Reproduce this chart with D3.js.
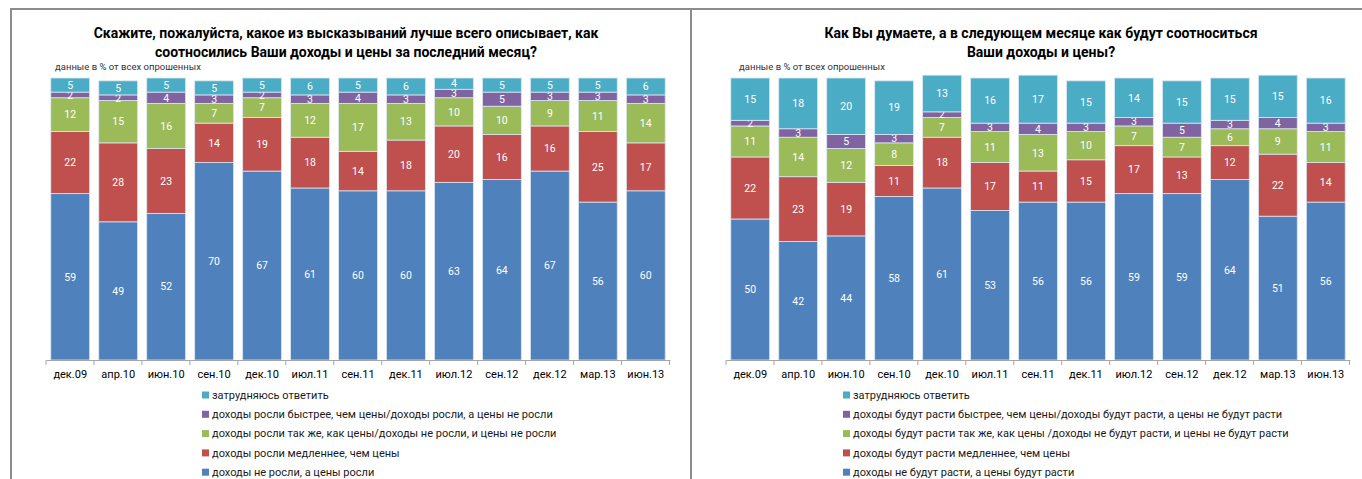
<!doctype html>
<html lang="ru">
<head>
<meta charset="utf-8" />
<title>Доходы и цены</title>
<script src="https://d3js.org/d3.v7.min.js"></script>
<style>
  body { margin: 0; background: #fff; }
  text { font-family: Roboto, "Open Sans", sans-serif; }
</style>
</head>
<body>
<svg id="chart" width="1362" height="479"></svg>
<script>
// categories (same for both panels)
const months = ["дек.09", "апр.10", "июн.10", "сен.10", "дек.10", "июл.11", "сен.11",
                "дек.11", "июл.12", "сен.12", "дек.12", "мар.13", "июн.13"];

// left panel: last month
const pastNoGrowth = [59, 49, 52, 70, 67, 61, 60, 60, 63, 64, 67, 56, 60];
const pastSlower   = [22, 28, 23, 14, 19, 18, 14, 18, 20, 16, 16, 25, 17];
const pastSame     = [12, 15, 16,  7,  7, 12, 17, 13, 10, 10,  9, 11, 14];
const pastFaster   = [ 2,  2,  4,  3,  2,  3,  4,  3,  3,  5,  3,  3,  3];
const pastDunno    = [ 5,  5,  5,  5,  5,  6,  5,  6,  4,  5,  5,  5,  6];

// right panel: next month
const nextNoGrowth = [50, 42, 44, 58, 61, 53, 56, 56, 59, 59, 64, 51, 56];
const nextSlower   = [22, 23, 19, 11, 18, 17, 11, 15, 17, 13, 12, 22, 14];
const nextSame     = [11, 14, 12,  8,  7, 11, 13, 10,  7,  7,  6,  9, 11];
const nextFaster   = [ 2,  3,  5,  3,  2,  3,  4,  3,  3,  5,  3,  4,  3];
const nextDunno    = [15, 18, 20, 19, 13, 16, 17, 15, 14, 15, 15, 15, 16];

const pastLegend = [
  "затрудняюсь ответить",
  "доходы росли быстрее, чем цены/доходы росли, а цены не росли",
  "доходы росли так же, как цены/доходы не росли, и цены не росли",
  "доходы росли медленнее, чем цены",
  "доходы не росли, а цены росли"
];
const nextLegend = [
  "затрудняюсь ответить",
  "доходы будут расти быстрее, чем цены/доходы будут расти, а цены не будут расти",
  "доходы будут расти так же, как цены /доходы не будут расти, и цены не будут расти",
  "доходы будут расти медленнее, чем цены",
  "доходы не будут расти, а цены будут расти"
];

const keys = ["noGrowth", "slower", "same", "faster", "dunno"];
const colors = ["#4F81BD", "#C0504D", "#9BBB59", "#8064A2", "#4BACC6"];
const legendColors = colors.slice().reverse();

const svg = d3.select("#chart");

// frame lines
svg.append("path")
  .attr("d", "M11,479 V9 H1362 M691,9 V479")
  .attr("fill", "none")
  .attr("stroke", "#8c8c8c")
  .attr("stroke-width", 2);

function buildRows(series) {
  return months.map((m, i) => {
    const row = { month: m };
    keys.forEach((k, j) => row[k] = series[j][i]);
    return row;
  });
}

function drawPanel(opt) {
  const g = svg.append("g");
  const rows = buildRows(opt.series);

  const x = d3.scaleBand()
    .domain(months)
    .range([opt.x0, opt.x1])
    .paddingInner(0.19)
    .paddingOuter(0.1);
  const y = d3.scaleLinear().domain([0, 100]).range([360, 78]);

  const stacked = d3.stack().keys(keys)(rows);

  // title
  g.append("text")
    .attr("text-anchor", "middle")
    .attr("font-size", 14).attr("font-weight", "bold")
    .attr("fill", "#000")
    .selectAll("tspan")
    .data(opt.title)
    .join("tspan")
      .attr("x", opt.cx)
      .attr("y", (d, i) => 38 + i * 19)
      .text(d => d);

  g.append("text")
    .attr("x", opt.noteX).attr("y", 70)
    .attr("font-size", 9.5).attr("fill", "#333")
    .text("данные в % от  всех опрошенных");

  const layer = g.selectAll("g.layer")
    .data(stacked)
    .join("g")
      .attr("class", "layer")
      .attr("fill", (d, i) => colors[i]);

  layer.selectAll("rect")
    .data(d => d)
    .join("rect")
      .attr("x", d => x(d.data.month))
      .attr("width", x.bandwidth())
      .attr("y", d => y(d[1]))
      .attr("height", d => y(d[0]) - y(d[1]))
      .attr("stroke", "#dbe6f2")
      .attr("stroke-width", 0.8);

  layer.selectAll("text")
    .data(d => d)
    .join("text")
      .attr("x", d => x(d.data.month) + x.bandwidth() / 2)
      .attr("y", d => (y(d[0]) + y(d[1])) / 2)
      .attr("dy", "0.36em")
      .attr("text-anchor", "middle")
      .attr("font-size", 10.5)
      .attr("fill", "#fff")
      .text(d => d[1] - d[0]);

  // x axis
  const axis = g.append("g")
    .attr("transform", "translate(0,360)")
    .call(d3.axisBottom(x).tickSize(0).tickPadding(10));
  axis.select(".domain").attr("stroke", "#a6a6a6");
  axis.selectAll("text")
    .attr("font-size", 11)
    .attr("fill", "#000")
    .style("font-family", "Roboto, 'Open Sans', sans-serif");

  const step = x.step();
  const bounds = d3.range(months.length + 1).map(i => opt.x0 + i * step);
  axis.selectAll("line.sep")
    .data(bounds)
    .join("line")
      .attr("class", "sep")
      .attr("x1", d => d).attr("x2", d => d)
      .attr("y1", 0).attr("y2", 5)
      .attr("stroke", "#a6a6a6");

  // legend
  const leg = g.selectAll("g.leg")
    .data(opt.legend)
    .join("g")
      .attr("class", "leg")
      .attr("transform", (d, i) => `translate(${opt.legX},${395 + i * 19.3})`);
  leg.append("rect")
    .attr("x", 0).attr("y", -3.5)
    .attr("width", 7).attr("height", 7)
    .attr("fill", (d, i) => legendColors[i]);
  leg.append("text")
    .attr("x", 10).attr("dy", "0.35em")
    .attr("font-size", 11).attr("fill", "#1a1a1a")
    .text(d => d);
}

drawPanel({
  series: [pastNoGrowth, pastSlower, pastSame, pastFaster, pastDunno],
  x0: 46, x1: 670, cx: 346, noteX: 55,
  title: ["Скажите, пожалуйста, какое из высказываний лучше всего описывает, как",
          "соотносились Ваши доходы и цены за последний месяц?"],
  legend: pastLegend, legX: 202
});

drawPanel({
  series: [nextNoGrowth, nextSlower, nextSame, nextFaster, nextDunno],
  x0: 726, x1: 1350, cx: 1041, noteX: 739,
  title: ["Как Вы думаете, а в следующем месяце как будут соотноситься",
          "Ваши доходы и цены?"],
  legend: nextLegend, legX: 843
});
</script>
</body>
</html>
